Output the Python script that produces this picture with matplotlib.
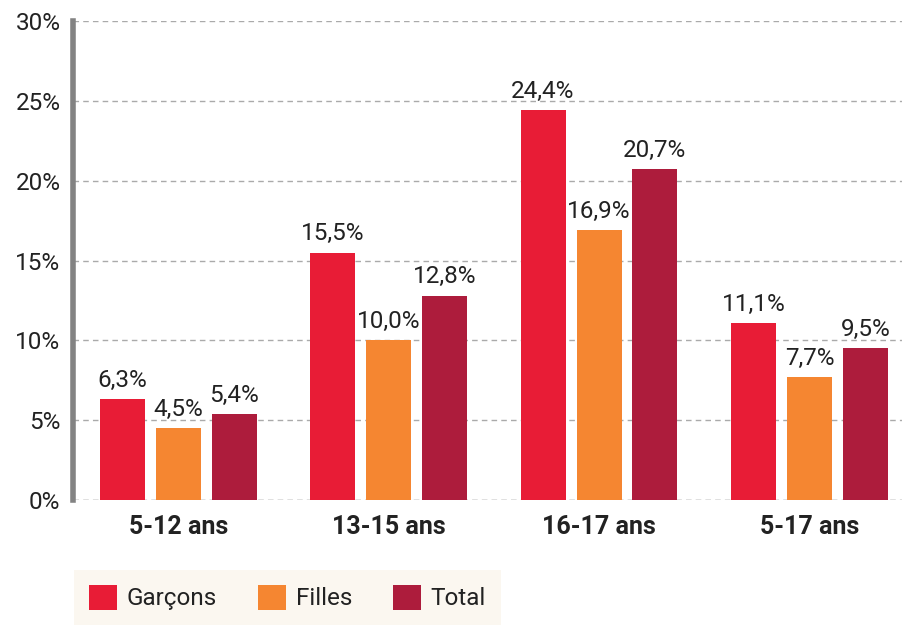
import numpy as np
import matplotlib
matplotlib.use("Agg")
from matplotlib import pyplot as plt
from matplotlib.patches import Patch

categories = ['5-12 ans', '13-15 ans', '16-17 ans', '5-17 ans']
garcons = [6.3, 15.5, 24.4, 11.1]
filles = [4.5, 10.0, 16.9, 7.7]
total = [5.4, 12.8, 20.7, 9.5]
series = ['Garçons', 'Filles', 'Total']
colors = ['#E81C36', '#F58631', '#AD1C3C']

plt.rcParams['font.family'] = ['Roboto', 'DejaVu Sans']

fig = plt.figure(figsize=(9.02, 6.25), dpi=100)
ax = fig.add_axes([73 / 902, 1 - 500 / 625, 829 / 902, 479 / 625])

x = np.arange(len(categories))
w = 0.214
off = 0.266
for i, (vals, c) in enumerate(zip([garcons, filles, total], colors)):
    xs = x + (i - 1) * off
    ax.bar(xs, vals, width=w, color=c, zorder=3)
    for xi, v in zip(xs, vals):
        ax.text(xi, v + 0.45, f'{v:.1f}%'.replace('.', ','), ha='center', va='bottom',
                fontsize=17.5, color='#222222', zorder=4)

ax.set_xlim(-0.5, 3.44)
ax.set_ylim(0, 30)
ax.set_yticks(range(0, 31, 5))
ax.set_yticklabels([f'{t}%' for t in range(0, 31, 5)], fontsize=17.5, color='#222222')
ax.set_xticks(x)
ax.set_xticklabels(categories, fontsize=18, fontweight='bold', color='#222222')
ax.tick_params(axis='both', length=0)
ax.tick_params(axis='x', pad=11)
ax.tick_params(axis='y', pad=9)

ax.grid(axis='y', color='#AAAAAA', linestyle=(0, (4, 3)), linewidth=1, zorder=0)
for s in ['top', 'right', 'bottom']:
    ax.spines[s].set_visible(False)
ax.spines['left'].set_color('#838383')
ax.spines['left'].set_linewidth(4)
ax.axhline(0, color='#AAAAAA', linestyle=(0, (4, 3)), linewidth=1, zorder=2)

handles = [Patch(facecolor=c, edgecolor='none') for c in colors]
leg = fig.legend(handles, series, loc='lower left', bbox_to_anchor=(74 / 902, 0), ncol=3,
                 fontsize=17.5, frameon=True, facecolor='#FBF7F0', edgecolor='none',
                 framealpha=1, fancybox=False, handlelength=1.15, handleheight=1.2,
                 columnspacing=1.7, handletextpad=0.4, borderpad=0.6,
                 borderaxespad=0)
for t in leg.get_texts():
    t.set_color('#222222')

fig.savefig('out.png', dpi=100)
